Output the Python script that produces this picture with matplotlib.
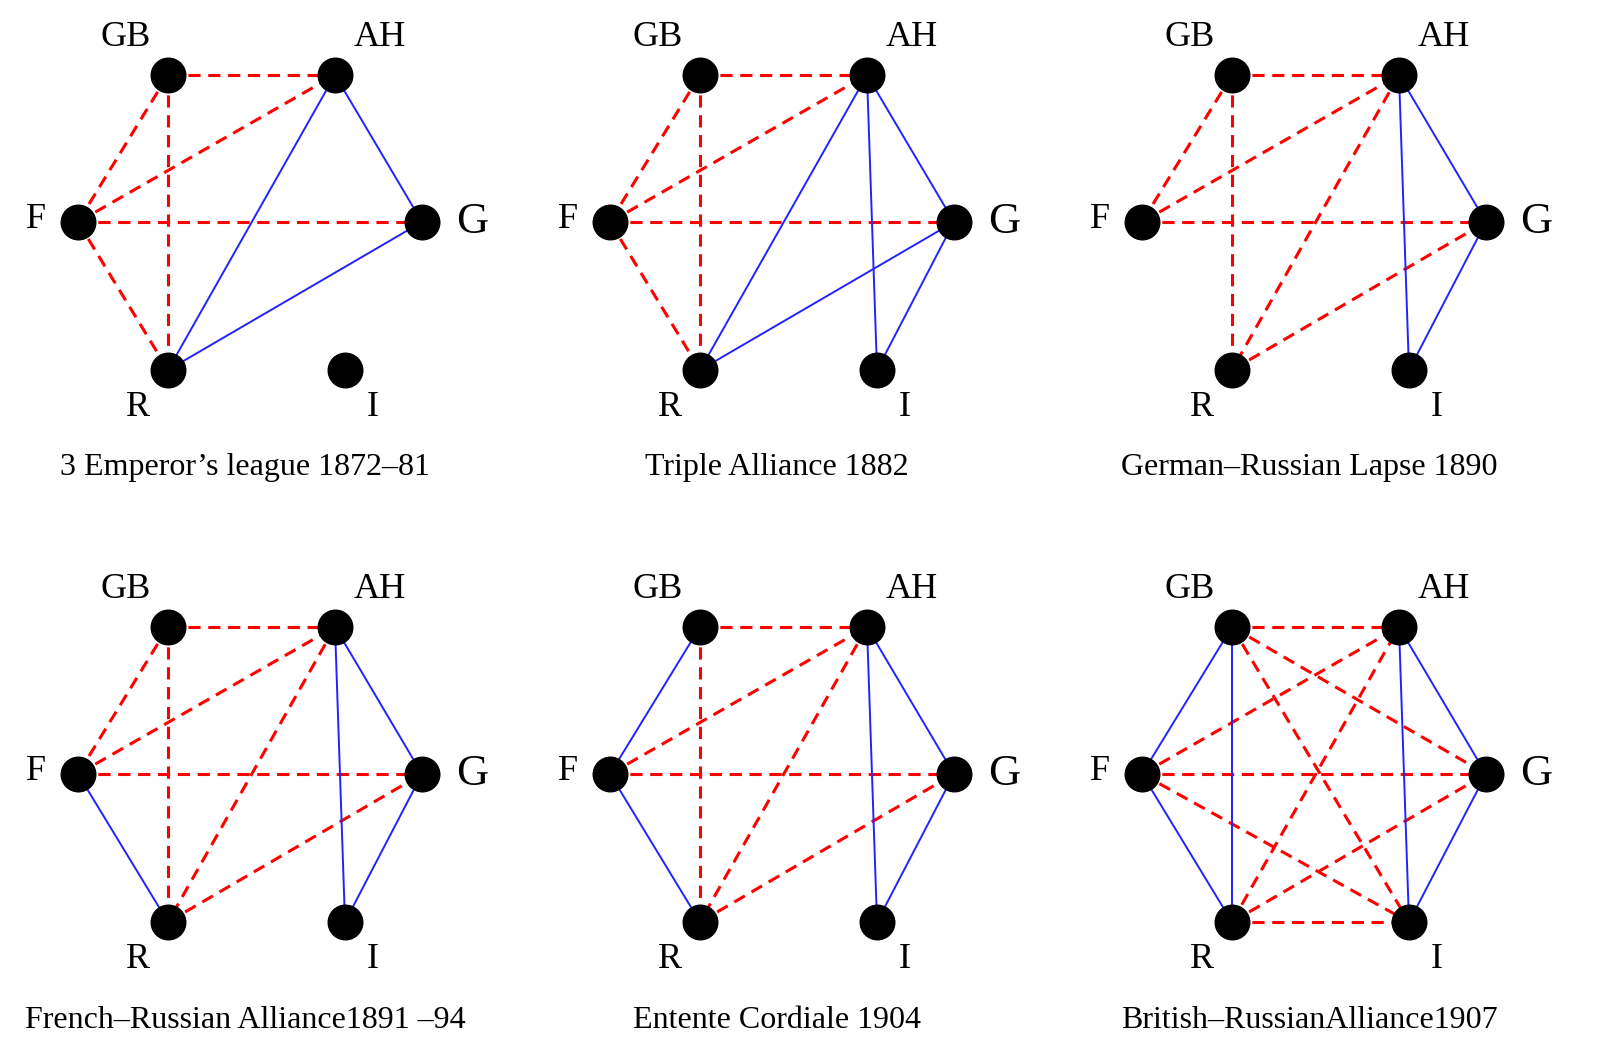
import matplotlib.pyplot as plt

nodes = ["GB", "AH", "F", "G", "R", "I"]
node_x = [168, 335, 78, 422, 168, 345]
node_y = [75, 75, 222, 222, 370, 370]

titles = ["3 Emperor\u2019s league 1872\u201381", "Triple Alliance 1882",
          "German\u2013Russian Lapse 1890", "French\u2013Russian Alliance1891 \u201394",
          "Entente Cordiale 1904", "British\u2013RussianAlliance1907"]

friends = [
    [("AH", "G"), ("AH", "R"), ("R", "G")],
    [("AH", "R"), ("R", "G"), ("AH", "G"), ("AH", "I"), ("G", "I")],
    [("AH", "G"), ("AH", "I"), ("G", "I")],
    [("F", "R"), ("AH", "G"), ("AH", "I"), ("G", "I")],
    [("GB", "F"), ("F", "R"), ("AH", "G"), ("AH", "I"), ("G", "I")],
    [("GB", "F"), ("GB", "R"), ("F", "R"), ("AH", "G"), ("AH", "I"), ("G", "I")],
]
enemies = [
    [("GB", "AH"), ("GB", "F"), ("GB", "R"), ("F", "AH"), ("F", "G"), ("F", "R")],
    [("GB", "AH"), ("GB", "F"), ("GB", "R"), ("F", "AH"), ("F", "G"), ("F", "R")],
    [("GB", "AH"), ("GB", "F"), ("GB", "R"), ("F", "AH"), ("F", "G"), ("AH", "R"), ("R", "G")],
    [("GB", "AH"), ("GB", "F"), ("GB", "R"), ("F", "AH"), ("F", "G"), ("AH", "R"), ("R", "G")],
    [("GB", "AH"), ("GB", "R"), ("F", "AH"), ("F", "G"), ("AH", "R"), ("R", "G")],
    [("GB", "AH"), ("GB", "G"), ("GB", "I"), ("F", "AH"), ("F", "G"), ("F", "I"),
     ("R", "AH"), ("R", "G"), ("R", "I")],
]

label_dx = {"GB": -42, "AH": 45, "F": -42, "G": 50, "R": -30, "I": 28}
label_dy = {"GB": -38, "AH": -38, "F": -2, "G": 0, "R": 38, "I": 38}


def main():
    plt.rcParams['font.family'] = ['Liberation Serif', 'DejaVu Serif']
    fig = plt.figure(figsize=(16, 10.56), dpi=100)
    ax = fig.add_axes([0, 0, 1, 1])
    ax.set_xlim(0, 1600)
    ax.set_ylim(1056, 0)
    ax.axis('off')
    pos = {n: (x, y) for n, x, y in zip(nodes, node_x, node_y)}
    for k in range(6):
        ox = 532 * (k % 3)
        oy = 552 * (k // 3)
        for a, b in enemies[k]:
            ax.plot([pos[a][0] + ox, pos[b][0] + ox], [pos[a][1] + oy, pos[b][1] + oy],
                    color='red', ls=(0, (4, 2.5)), lw=2.2, zorder=1)
        for a, b in friends[k]:
            ax.plot([pos[a][0] + ox, pos[b][0] + ox], [pos[a][1] + oy, pos[b][1] + oy],
                    color='#2222ff', lw=1.4, zorder=2)
        ax.scatter([x + ox for x in node_x], [y + oy for y in node_y],
                   s=620, color='black', zorder=3)
        for n in nodes:
            size = 32 if n == "G" else 26
            ax.text(pos[n][0] + ox + label_dx[n], pos[n][1] + oy + label_dy[n], n,
                    fontsize=size, ha='center', va='center')
        ax.text(245 + ox, 468 + oy, titles[k], fontsize=23, ha='center', va='center')
    fig.savefig("out.png")
    return 0


if __name__ == "__main__":
    main()
